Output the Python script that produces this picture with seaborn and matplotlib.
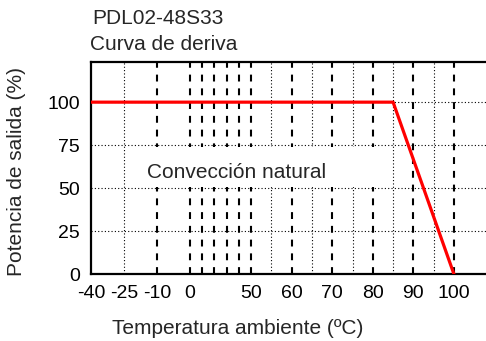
import numpy as np
import seaborn as sns
import matplotlib
matplotlib.use("Agg")
import matplotlib.pyplot as plt

# curva de derating
temp = [-40, 85, 100]
potencia = [100, 100, 0]

# etiquetas de los ejes
x_ticks = [-40, -25, -10, 0, 50, 60, 70, 80, 90, 100]
y_ticks = [0, 25, 50, 75, 100]

# lineas de rejilla verticales
v_dashed = [-10, 0, 10, 20, 30, 40, 50, 60, 70, 80, 90, 100]
v_dotted = [-25, 55, 65, 75, 85, 95]
h_dotted = [25, 50, 75, 100]

# escala por tramos del eje x (igual que la hoja de datos)
scale_t = [-40, -10, 0, 50, 110]
scale_p = [0, 66, 99, 160, 403.6]


def fwd(x):
    return np.interp(x, scale_t, scale_p)


def inv(p):
    return np.interp(p, scale_p, scale_t)


sns.set_style("white")
plt.rcParams["font.family"] = ["Liberation Sans", "DejaVu Sans"]

fig = plt.figure(figsize=(4.86, 3.41), dpi=100)
ax = fig.add_axes([91 / 486, 1 - 274.3 / 341, 403.6 / 486, 212.6 / 341])
ax.set_xscale("function", functions=(fwd, inv))
ax.set_xlim(-40, 110)
ax.set_ylim(0, 123.5)

for v in v_dashed:
    ax.axvline(v, color="black", lw=1.5, ls=(0, (3.3, 3.3)), zorder=1)
for v in v_dotted:
    ax.axvline(v, color="black", lw=0.8, ls=(0, (1, 2)), zorder=1)

# caja blanca detras del texto (tapa las lineas verticales)
ax.fill_between([-18, 84.6], 51, 74, color="white", lw=0, zorder=1.5)

for h in h_dotted:
    ax.axhline(h, color="black", lw=0.8, ls=(0, (1, 2)), zorder=1.6)

sns.lineplot(x=temp, y=potencia, color="red", lw=2.3, ax=ax, zorder=3)

ax.text(-14.5, 59.3, "Convección natural", fontsize=15, ha="left", va="center", zorder=2)

ax.set_xticks(x_ticks)
ax.set_xticklabels([str(t) for t in x_ticks])
ax.set_yticks(y_ticks)
ax.minorticks_off()
ax.tick_params(axis="both", length=0, labelsize=14, colors="black")
ax.tick_params(axis="x", pad=8)
ax.tick_params(axis="y", pad=8)

for s in ax.spines.values():
    s.set_color("black")
    s.set_linewidth(1.6)

ax.set_xlabel("Temperatura ambiente (ºC)", fontsize=15)
ax.xaxis.set_label_coords((238 - 91) / 403.6, (274.3 - 328) / 212.6)
ax.xaxis.label.set_va("center")
ax.set_ylabel("Potencia de salida (%)", fontsize=15)
ax.yaxis.set_label_coords((17 - 91) / 403.6, (274.3 - 172) / 212.6)
ax.yaxis.label.set_va("center")

fig.text(92 / 486, 1 - 18 / 341, "PDL02-48S33", fontsize=15, ha="left", va="center")
fig.text(90 / 486, 1 - 44 / 341, "Curva de deriva", fontsize=15, ha="left", va="center")

fig.savefig("out.png", dpi=100)
